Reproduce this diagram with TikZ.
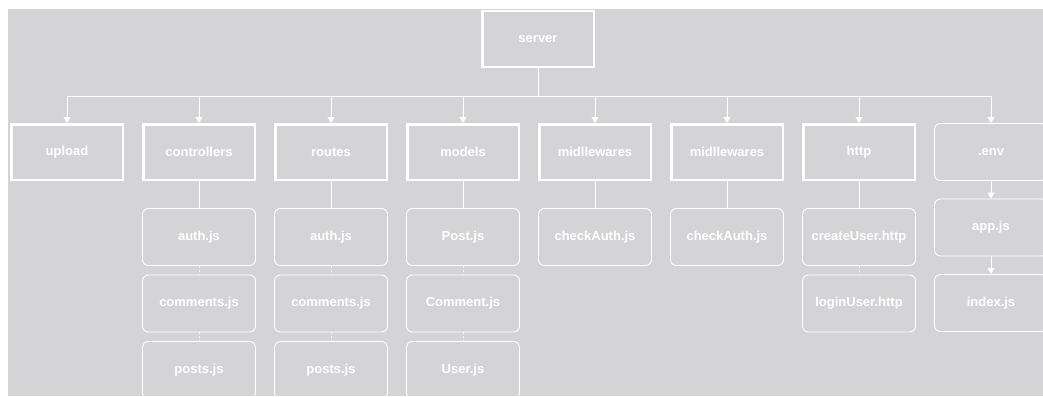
\documentclass[tikz,border=0pt]{standalone}
\usepackage{fontspec}
\setmainfont{Liberation Sans}
\usetikzlibrary{arrows.meta}
\definecolor{panel}{RGB}{212,212,214}

\begin{document}
\begin{tikzpicture}[x=1pt, y=-1pt, node distance=132pt, font=\bfseries\fontsize{13}{15}\selectfont]
    \tikzstyle{folder} = [rectangle, draw=white, line width=2.5pt, text=white, minimum width=111.5pt, minimum height=55.5pt]
    \tikzstyle{file} = [rectangle, rounded corners=6pt, draw=white, line width=0.9pt, text=white, minimum width=113pt, minimum height=57pt]
    \tikzstyle{line} = [draw=white, line width=0.9pt, -{Triangle[width=7pt,length=6pt]}]
    \tikzstyle{link} = [draw=white, line width=0.9pt]
    \tikzstyle{dots} = [draw=white!75!panel, line width=0.9pt, dash pattern=on 2pt off 2pt]

    \useasboundingbox (0,0) rectangle (1043,396);
    \fill [panel] (8,9) rectangle (1043,396);

    \node [folder] (server) at (538,39) {server};
    \node [folder] (upload) at (67,152) {upload};
    \node [folder, right of=upload] (ctrl) {controllers};
    \node [folder, right of=ctrl] (routes) {routes};
    \node [folder, right of=routes] (models) {models};
    \node [folder, right of=models] (midA) {midllewares};
    \node [folder, right of=midA] (midB) {midllewares};
    \node [folder, right of=midB] (http) {http};
    \node [file, right of=http] (env) {.env};

    \foreach \dir in {upload, ctrl, routes, models, midA, midB, http, env}
        \draw [line] (server.south) -- ++(0,28) -| (\dir.north);

    \node [file, below of=ctrl, node distance=85pt] (ctrlauth) {auth.js};
    \node [file, below of=ctrlauth, node distance=66.5pt] (ctrlcomm) {comments.js};
    \node [file, below of=ctrlcomm, node distance=66.5pt] (ctrlposts) {posts.js};

    \node [file, below of=routes, node distance=85pt] (rauth) {auth.js};
    \node [file, below of=rauth, node distance=66.5pt] (rcomm) {comments.js};
    \node [file, below of=rcomm, node distance=66.5pt] (rposts) {posts.js};

    \node [file, below of=models, node distance=85pt] (post) {Post.js};
    \node [file, below of=post, node distance=66.5pt] (comment) {Comment.js};
    \node [file, below of=comment, node distance=66.5pt] (user) {User.js};

    \node [file, below of=midA, node distance=85pt] (checkA) {checkAuth.js};
    \node [file, below of=midB, node distance=85pt] (checkB) {checkAuth.js};

    \node [file, below of=http, node distance=85pt] (create) {createUser.http};
    \node [file, below of=create, node distance=66.5pt] (login) {loginUser.http};

    \node [file, below of=env, node distance=75.5pt] (app) {app.js};
    \node [file, below of=app, node distance=75.5pt] (index) {index.js};

    \draw [link] (ctrl) -- (ctrlauth);
    \draw [dots] (ctrlauth) -- (ctrlcomm);
    \draw [dots] (ctrlcomm) -- (ctrlposts);
    \draw [link] (routes) -- (rauth);
    \draw [dots] (rauth) -- (rcomm);
    \draw [dots] (rcomm) -- (rposts);
    \draw [link] (models) -- (post);
    \draw [dots] (post) -- (comment);
    \draw [dots] (comment) -- (user);
    \draw [link] (midA) -- (checkA);
    \draw [link] (midB) -- (checkB);
    \draw [link] (http) -- (create);
    \draw [dots] (create) -- (login);
    \draw [line] (env) -- (app);
    \draw [line] (app) -- (index);
\end{tikzpicture}
\end{document}
